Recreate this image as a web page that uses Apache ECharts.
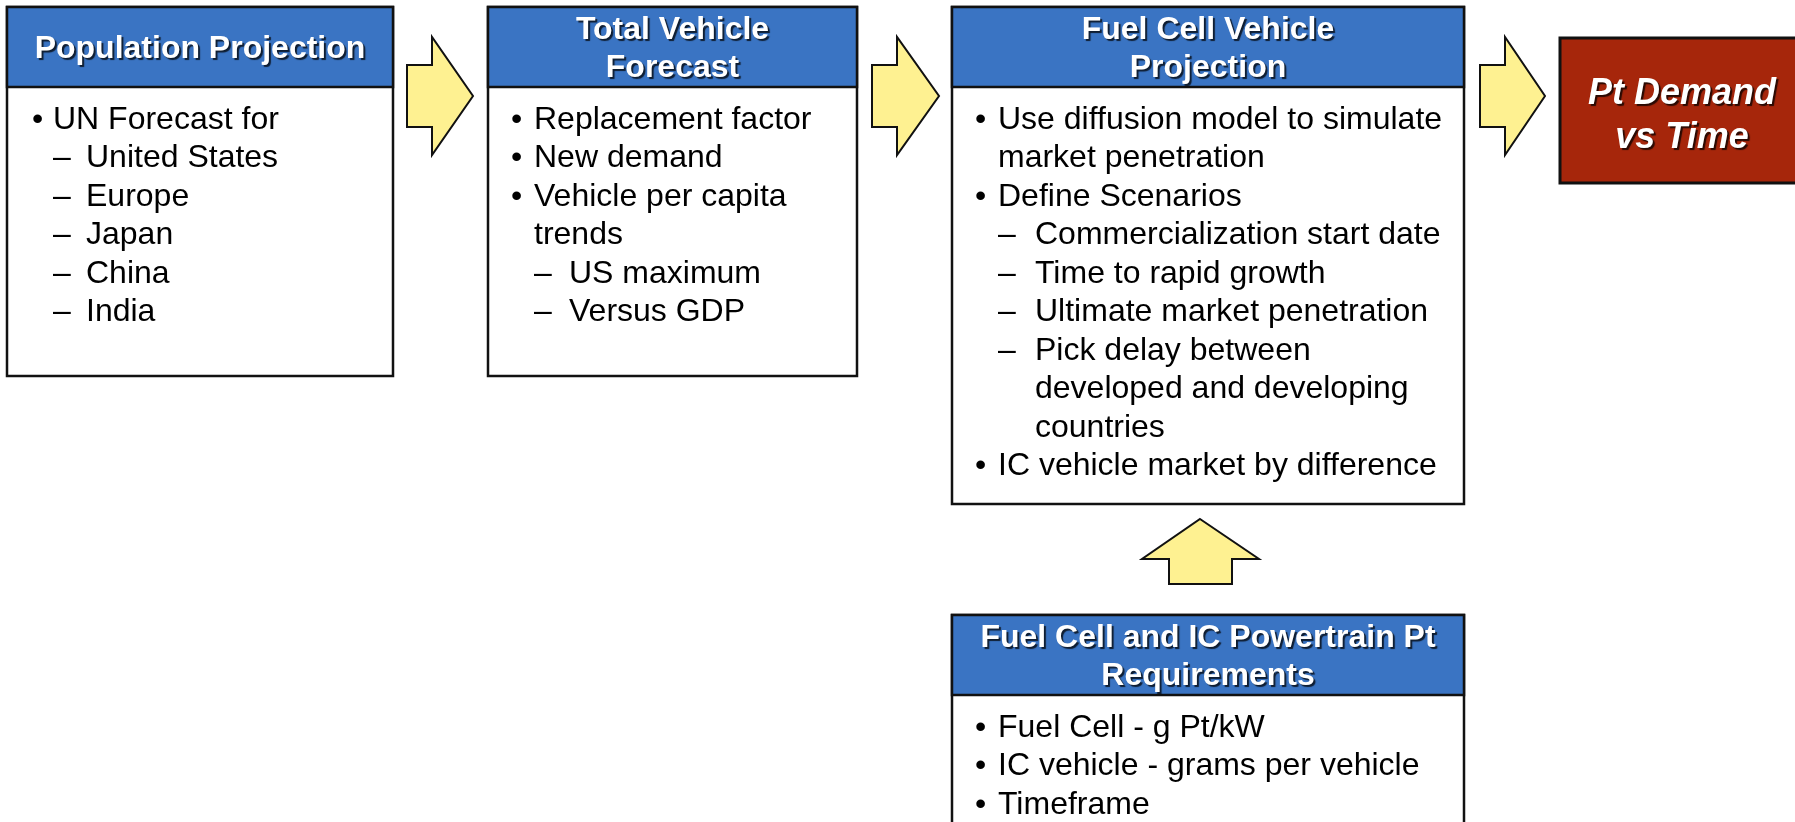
<!DOCTYPE html>
<html>
<head>
<meta charset="utf-8">
<script src="https://cdn.jsdelivr.net/npm/echarts@6/dist/echarts.min.js"></script>
<style>
    html, body { margin: 0; padding: 0; background: #fff; }
    #chart { width: 1795px; height: 822px; }
</style>
</head>
<body>
<div id="chart"></div>
<script>
    // box titles
    const boxTitles = [
        'Population Projection',
        'Total Vehicle\nForecast',
        'Fuel Cell Vehicle\nProjection',
        'Fuel Cell and IC Powertrain Pt\nRequirements'
    ];
    // bullet lines: [level, text]  (0 = bullet, 1 = dash)
    const populationItems = [
        [0, 'UN Forecast for'],
        [1, 'United States'],
        [1, 'Europe'],
        [1, 'Japan'],
        [1, 'China'],
        [1, 'India']
    ];
    const vehicleItems = [
        [0, 'Replacement factor'],
        [0, 'New demand'],
        [0, 'Vehicle per capita\ntrends'],
        [1, 'US maximum'],
        [1, 'Versus GDP']
    ];
    const fcvItems = [
        [0, 'Use diffusion model to simulate\nmarket penetration'],
        [0, 'Define Scenarios'],
        [1, 'Commercialization start date'],
        [1, 'Time to rapid growth'],
        [1, 'Ultimate market penetration'],
        [1, 'Pick delay between\ndeveloped and developing\ncountries'],
        [0, 'IC vehicle market by difference']
    ];
    const ptItems = [
        [0, 'Fuel Cell - g Pt/kW'],
        [0, 'IC vehicle - grams per vehicle'],
        [0, 'Timeframe']
    ];
    const resultTitle = 'Pt Demand\nvs Time';

    const boxItems = [populationItems, vehicleItems, fcvItems, ptItems];

    // layout
    const boxes = [
        {x: 7, y: 7, w: 386, h: 369, bx: 25, sub: 79},
        {x: 488, y: 7, w: 369, h: 369, bx: 23, sub: 81},
        {x: 952, y: 7, w: 512, h: 497, bx: 23, sub: 83},
        {x: 952, y: 615, w: 512, h: 260, bx: 23, sub: 83}
    ];
    const HEAD = 80;
    const LINE = 38.5;
    const FS = 32;
    const FONT = '"Liberation Sans", Arial, sans-serif';
    const BLUE = '#3A74C3';
    const YELLOW = '#FEF191';
    const RED = '#A6260B';
    const shadow = {textShadowColor: 'rgba(0,0,0,0.75)', textShadowOffsetX: 2, textShadowOffsetY: 2, textShadowBlur: 1};

    const graphic = [];

    boxes.forEach((b, i) => {
        graphic.push({
            type: 'rect', shape: {x: b.x, y: b.y, width: b.w, height: b.h},
            style: {fill: '#fff', stroke: '#111', lineWidth: 2.5}
        });
        graphic.push({
            type: 'rect', shape: {x: b.x, y: b.y, width: b.w, height: HEAD},
            style: {fill: BLUE, stroke: '#111', lineWidth: 2.5}
        });
        const tl = boxTitles[i].split('\n');
        const tcy = b.y + HEAD / 2 + 2;
        tl.forEach((t, k) => {
            graphic.push({
                type: 'text',
                style: Object.assign({
                    text: t, x: b.x + b.w / 2, y: tcy + (k - (tl.length - 1) / 2) * 38,
                    fill: '#fff', font: 'bold ' + FS + 'px ' + FONT,
                    textAlign: 'center', textVerticalAlign: 'middle'
                }, shadow)
            });
        });
        // body lines
        let ly = b.y + HEAD + 33;
        boxItems[i].forEach(([lvl, txt]) => {
            const parts = txt.split('\n');
            const markX = b.x + (lvl === 0 ? b.bx : 46);
            const textX = b.x + (lvl === 0 ? 46 : b.sub);
            graphic.push({
                type: 'text',
                style: {text: lvl === 0 ? '•' : '–', x: markX, y: ly, fill: '#000',
                    font: FS + 'px ' + FONT, textAlign: 'left', textVerticalAlign: 'middle'}
            });
            parts.forEach(p => {
                graphic.push({
                    type: 'text',
                    style: {text: p, x: textX, y: ly, fill: '#000',
                        font: FS + 'px ' + FONT, textAlign: 'left', textVerticalAlign: 'middle'}
                });
                ly += LINE;
            });
        });
    });

    // right arrows
    const rightArrows = [[407, 432, 473], [872, 897, 939], [1480, 1505, 1545]];
    rightArrows.forEach(([x0, hx, tx]) => {
        graphic.push({
            type: 'polygon',
            shape: {points: [[x0, 65], [hx, 65], [hx, 37], [tx, 96], [hx, 155], [hx, 127], [x0, 127]]},
            style: {fill: YELLOW, stroke: '#111', lineWidth: 2}
        });
    });
    // up arrow
    graphic.push({
        type: 'polygon',
        shape: {points: [[1200, 519], [1259, 559], [1232, 559], [1232, 584], [1169, 584], [1169, 559], [1142, 559]]},
        style: {fill: YELLOW, stroke: '#111', lineWidth: 2}
    });

    // result box
    graphic.push({
        type: 'rect', shape: {x: 1560, y: 38, width: 260, height: 145},
        style: {fill: RED, stroke: '#111', lineWidth: 3}
    });
    resultTitle.split('\n').forEach((t, k) => {
        graphic.push({
            type: 'text',
            style: Object.assign({
                text: t, x: 1682, y: 94 + k * 44, fill: '#fff',
                font: 'italic bold 36px ' + FONT, textAlign: 'center', textVerticalAlign: 'middle'
            }, shadow)
        });
    });

    const chart = echarts.init(document.getElementById('chart'));
    chart.setOption({
        backgroundColor: '#fff',
        animation: false,
        graphic: graphic
    });
</script>
</body>
</html>
